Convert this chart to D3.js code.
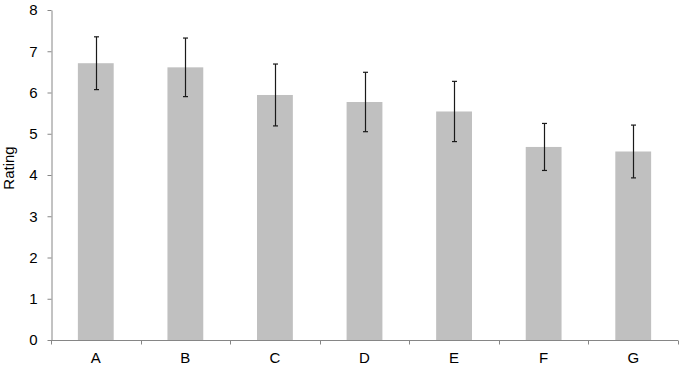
<!DOCTYPE html>
<html>
<head>
<meta charset="utf-8">
<script src="https://cdn.jsdelivr.net/npm/d3@7"></script>
<style>
  body { margin: 0; background: #fff; }
  svg { display: block; font-family: "Liberation Sans", Arial, sans-serif; }
</style>
</head>
<body>
<script>
// Chart data
const categories = ['A', 'B', 'C', 'D', 'E', 'F', 'G'];
const ratings = [6.71, 6.61, 5.94, 5.77, 5.54, 4.68, 4.57];
const errors = [0.64, 0.71, 0.75, 0.72, 0.73, 0.57, 0.64];
const yTicks = [0, 1, 2, 3, 4, 5, 6, 7, 8];

const W = 681, H = 366;
const margin = { top: 10, right: 3, bottom: 26, left: 51 };
const fontSize = 15;

const svg = d3.select('body').append('svg')
  .attr('width', W)
  .attr('height', H);

const x = d3.scaleBand()
  .domain(categories)
  .range([margin.left, W - margin.right])
  .padding(0);

const y = d3.scaleLinear()
  .domain([0, 8])
  .range([H - margin.bottom, margin.top]);

const barW = x.bandwidth() * 0.4;

// bars
svg.append('g')
  .selectAll('rect')
  .data(categories)
  .join('rect')
  .attr('x', (d) => x(d) + (x.bandwidth() - barW) / 2)
  .attr('y', (d, i) => y(ratings[i]))
  .attr('width', barW)
  .attr('height', (d, i) => y(0) - y(ratings[i]))
  .attr('fill', '#c0c0c0');

// error bars
const eb = svg.append('g')
  .attr('stroke', '#1a1a1a')
  .attr('stroke-width', 1.2);

categories.forEach((c, i) => {
  const cx = Math.round(x(c) + x.bandwidth() / 2) + 0.5;
  const hi = y(ratings[i] + errors[i]);
  const lo = y(ratings[i] - errors[i]);
  eb.append('line').attr('x1', cx).attr('x2', cx).attr('y1', hi).attr('y2', lo);
  eb.append('line').attr('x1', cx - 2.5).attr('x2', cx + 2.5).attr('y1', hi).attr('y2', hi);
  eb.append('line').attr('x1', cx - 2.5).attr('x2', cx + 2.5).attr('y1', lo).attr('y2', lo);
});

// y axis
const yAxis = svg.append('g')
  .attr('transform', `translate(${margin.left + 0.5},0)`)
  .call(d3.axisLeft(y).tickValues(yTicks).tickSize(4).tickSizeOuter(0).tickPadding(10));

// x axis: ticks at band boundaries, labels at band centres
const xAxis = svg.append('g')
  .attr('transform', `translate(0,${y(0) + 0.5})`);

xAxis.append('line')
  .attr('x1', margin.left)
  .attr('x2', W - margin.right)
  .attr('stroke', '#868686');

const bounds = categories.map((c) => x(c)).concat([x.range()[1]]);
xAxis.selectAll('.xt')
  .data(bounds)
  .join('line')
  .attr('class', 'xt')
  .attr('x1', (d) => Math.round(d) + 0.5)
  .attr('x2', (d) => Math.round(d) + 0.5)
  .attr('y1', 0)
  .attr('y2', 4)
  .attr('stroke', '#868686');

xAxis.selectAll('.xl')
  .data(categories)
  .join('text')
  .attr('class', 'xl')
  .attr('x', (d) => x(d) + x.bandwidth() / 2)
  .attr('y', 22.5)
  .attr('text-anchor', 'middle')
  .attr('font-size', fontSize)
  .attr('fill', '#000')
  .text((d) => d);

yAxis.selectAll('path, line').attr('stroke', '#868686');
yAxis.selectAll('text')
  .attr('font-size', fontSize)
  .attr('font-family', '"Liberation Sans", Arial, sans-serif')
  .attr('fill', '#000');

// y label
svg.append('text')
  .attr('transform', `translate(14,168) rotate(-90)`)
  .attr('text-anchor', 'middle')
  .attr('font-size', fontSize)
  .attr('fill', '#000')
  .text('Rating');
</script>
</body>
</html>
